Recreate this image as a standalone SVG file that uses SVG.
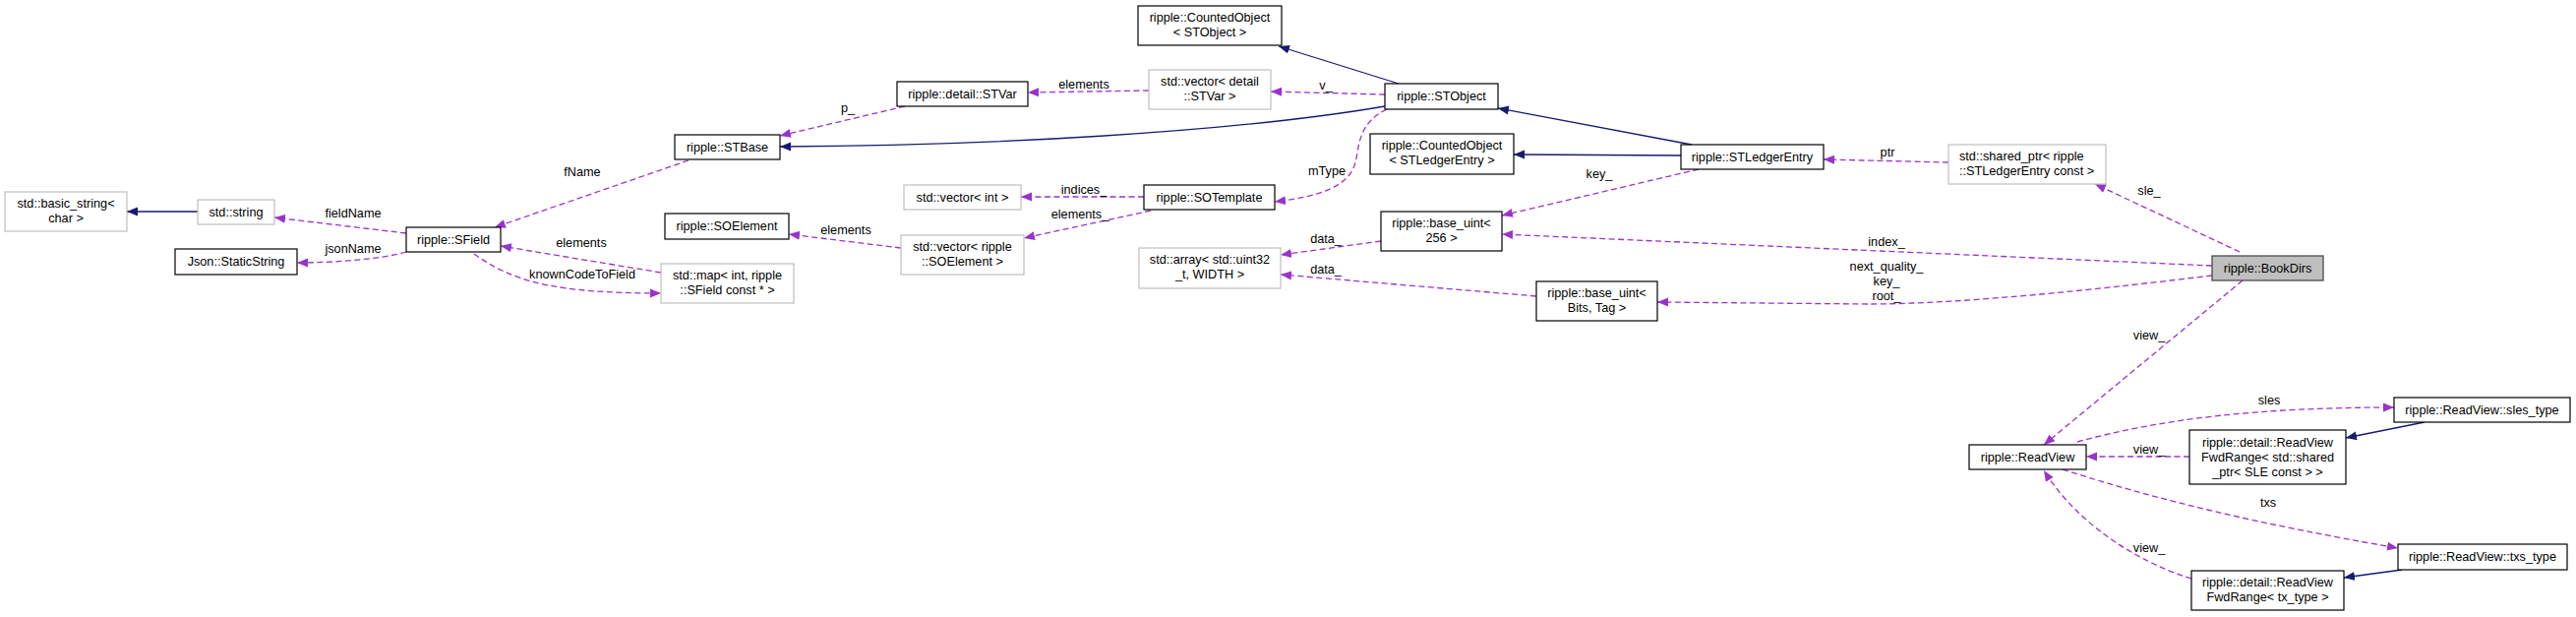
<svg xmlns="http://www.w3.org/2000/svg" width="2619" height="627" viewBox="0 0 2619 627">
<defs>
<style>
.n rect{fill:#fff;stroke:#000;stroke-width:1.2}
.n.g rect{stroke:#bfbfbf}
.n.cur rect{fill:#bfbfbf;stroke:#404040}
text{font-family:"Liberation Sans",Arial,sans-serif;font-size:12.7px;fill:#000}
.n text{text-anchor:middle}
.lbl{text-anchor:middle}
.inh{fill:none;stroke:#191970;stroke-width:1.3;marker-end:url(#an)}
.use{fill:none;stroke:#9a32cd;stroke-width:1.3;stroke-dasharray:6,3.5;marker-end:url(#ap)}
</style>
<marker id="an" markerUnits="userSpaceOnUse" markerWidth="12" markerHeight="10" refX="11" refY="5" orient="auto"><path d="M0,0.5 L11,5 L0,9.5 z" fill="#191970"/></marker>
<marker id="ap" markerUnits="userSpaceOnUse" markerWidth="12" markerHeight="10" refX="11" refY="5" orient="auto"><path d="M0,0.5 L11,5 L0,9.5 z" fill="#9a32cd"/></marker>
</defs>
<rect width="2619" height="627" fill="#fff"/>

<g id="edges">
<path class="inh" d="M201,215 L129,215"/>
<path class="inh" d="M1408,108 C1250,135 1000,148 793,149"/>
<path class="inh" d="M1422,85 L1300,47"/>
<path class="inh" d="M1720,147 L1523,110"/>
<path class="inh" d="M1709,158 L1539,157"/>
<path class="inh" d="M2465,429 L2385,445"/>
<path class="inh" d="M2442,579 L2383,587"/>

<path class="use" d="M413,237 L279,221"/>
<path class="use" d="M413,256 C390,263 340,267 302,267"/>
<path class="use" d="M700,163 L503,231"/>
<path class="use" d="M672,277 L509,250"/>
<path class="use" d="M482,258 C520,285 560,298 672,298"/>
<path class="use" d="M916,252 L802,238"/>
<path class="use" d="M920,108 L793,138"/>
<path class="use" d="M1168,92 L1045,94"/>
<path class="use" d="M1408,96 L1292,93"/>
<path class="use" d="M1410,111 C1380,125 1382,150 1378,165 C1372,190 1340,200 1296,205"/>
<path class="use" d="M1163,200 L1038,200"/>
<path class="use" d="M1170,214 L1041,242"/>
<path class="use" d="M1404,245 L1302,259"/>
<path class="use" d="M1562,301 L1302,279"/>
<path class="use" d="M1727,172 L1527,219"/>
<path class="use" d="M1981,165 L1854,162"/>
<path class="use" d="M2277,256 L2130,187"/>
<path class="use" d="M2249,270 L1527,238"/>
<path class="use" d="M2249,280 C2150,292 2000,309 1900,309 L1685,307"/>
<path class="use" d="M2280,285 L2078,452"/>
<path class="use" d="M2112,449 C2200,425 2300,414 2434,414"/>
<path class="use" d="M2226,464 L2121,464"/>
<path class="use" d="M2097,477 C2200,510 2300,533 2438,557"/>
<path class="use" d="M2228,588 C2170,570 2110,530 2078,478"/>

<text class="lbl" x="359" y="221">fieldName</text>
<text class="lbl" x="359" y="257">jsonName</text>
<text class="lbl" x="592" y="179">fName</text>
<text class="lbl" x="591" y="251">elements</text>
<text class="lbl" x="592" y="283">knownCodeToField</text>
<text class="lbl" x="860" y="238">elements</text>
<text class="lbl" x="862" y="114">p_</text>
<text class="lbl" x="1102" y="90">elements</text>
<text class="lbl" x="1348" y="91">v_</text>
<text class="lbl" x="1349" y="178">mType</text>
<text class="lbl" x="1102" y="197">indices_</text>
<text class="lbl" x="1098" y="222">elements_</text>
<text class="lbl" x="1348" y="247">data_</text>
<text class="lbl" x="1348" y="278">data_</text>
<text class="lbl" x="1626" y="181">key_</text>
<text class="lbl" x="1919" y="159">ptr</text>
<text class="lbl" x="2185" y="198">sle_</text>
<text class="lbl" x="1918" y="250">index_</text>
<text class="lbl" x="1918" y="275">next_quality_</text>
<text class="lbl" x="1918" y="290">key_</text>
<text class="lbl" x="1918" y="305">root_</text>
<text class="lbl" x="2185" y="345">view_</text>
<text class="lbl" x="2307" y="411">sles</text>
<text class="lbl" x="2185" y="461">view_</text>
<text class="lbl" x="2306" y="515">txs</text>
<text class="lbl" x="2185" y="561">view_</text>
</g>

<g id="basic_string" class="n g"><rect x="5" y="195" width="124" height="40"/><text x="67" y="211">std::basic_string&lt;</text><text x="67" y="226">char &gt;</text></g>
<g id="std_string" class="n g"><rect x="201" y="203" width="78" height="25"/><text x="240" y="220">std::string</text></g>
<g id="SField" class="n"><rect x="413" y="231" width="96" height="25"/><text x="461" y="248">ripple::SField</text></g>
<g id="StaticString" class="n"><rect x="178" y="253" width="124" height="26"/><text x="240" y="270">Json::StaticString</text></g>
<g id="STBase" class="n"><rect x="686" y="137" width="107" height="25"/><text x="739.5" y="154">ripple::STBase</text></g>
<g id="SOElement" class="n"><rect x="676" y="217" width="126" height="26"/><text x="739" y="234">ripple::SOElement</text></g>
<g id="map_SField" class="n g"><rect x="672" y="268" width="135" height="40"/><text x="739.5" y="284">std::map&lt; int, ripple</text><text x="739.5" y="299">::SField const * &gt;</text></g>
<g id="STVar" class="n"><rect x="912" y="83" width="133" height="25"/><text x="978.5" y="100">ripple::detail::STVar</text></g>
<g id="vector_STVar" class="n g"><rect x="1168" y="71" width="124" height="40"/><text x="1230" y="87">std::vector&lt; detail</text><text x="1230" y="102">::STVar &gt;</text></g>
<g id="CountedObject_STObject" class="n"><rect x="1157" y="6" width="146" height="40"/><text x="1230" y="22">ripple::CountedObject</text><text x="1230" y="37">&lt; STObject &gt;</text></g>
<g id="vector_int" class="n g"><rect x="919" y="188" width="119" height="25"/><text x="978.5" y="205">std::vector&lt; int &gt;</text></g>
<g id="SOTemplate" class="n"><rect x="1163" y="188" width="133" height="25"/><text x="1229.5" y="205">ripple::SOTemplate</text></g>
<g id="vector_SOElement" class="n g"><rect x="916" y="239" width="125" height="40"/><text x="978.5" y="255">std::vector&lt; ripple</text><text x="978.5" y="270">::SOElement &gt;</text></g>
<g id="std_array" class="n g"><rect x="1158" y="252" width="144" height="41"/><text x="1230" y="268">std::array&lt; std::uint32</text><text x="1230" y="283">_t, WIDTH &gt;</text></g>
<g id="STObject" class="n"><rect x="1408" y="85" width="115" height="26"/><text x="1465.5" y="102">ripple::STObject</text></g>
<g id="CountedObject_STLedgerEntry" class="n"><rect x="1393" y="136" width="146" height="41"/><text x="1466" y="152">ripple::CountedObject</text><text x="1466" y="167">&lt; STLedgerEntry &gt;</text></g>
<g id="base_uint_256" class="n"><rect x="1404" y="215" width="123" height="40"/><text x="1465.5" y="231">ripple::base_uint&lt;</text><text x="1465.5" y="246">256 &gt;</text></g>
<g id="base_uint_Bits" class="n"><rect x="1562" y="286" width="123" height="40"/><text x="1623.5" y="302">ripple::base_uint&lt;</text><text x="1623.5" y="317">Bits, Tag &gt;</text></g>
<g id="STLedgerEntry" class="n"><rect x="1709" y="147" width="145" height="25"/><text x="1781.5" y="164">ripple::STLedgerEntry</text></g>
<g id="shared_ptr" class="n g"><rect x="1981" y="147" width="160" height="40"/><text x="1992" y="163" style="text-anchor:start">std::shared_ptr&lt; ripple</text><text x="1992" y="178" style="text-anchor:start">::STLedgerEntry const &gt;</text></g>
<g id="BookDirs" class="n cur"><rect x="2249" y="260" width="113" height="25"/><text x="2305.5" y="277">ripple::BookDirs</text></g>
<g id="ReadView" class="n"><rect x="2002" y="452" width="119" height="25"/><text x="2061.5" y="469">ripple::ReadView</text></g>
<g id="sles_type" class="n"><rect x="2434" y="404" width="179" height="25"/><text x="2523.5" y="421">ripple::ReadView::sles_type</text></g>
<g id="FwdRange_SLE" class="n"><rect x="2226" y="437" width="159" height="55"/><text x="2305.5" y="454">ripple::detail::ReadView</text><text x="2305.5" y="469">FwdRange&lt; std::shared</text><text x="2305.5" y="484">_ptr&lt; SLE const &gt; &gt;</text></g>
<g id="txs_type" class="n"><rect x="2438" y="553" width="172" height="26"/><text x="2524" y="570">ripple::ReadView::txs_type</text></g>
<g id="FwdRange_tx" class="n"><rect x="2228" y="580" width="155" height="40"/><text x="2305.5" y="596">ripple::detail::ReadView</text><text x="2305.5" y="611">FwdRange&lt; tx_type &gt;</text></g>
</svg>
